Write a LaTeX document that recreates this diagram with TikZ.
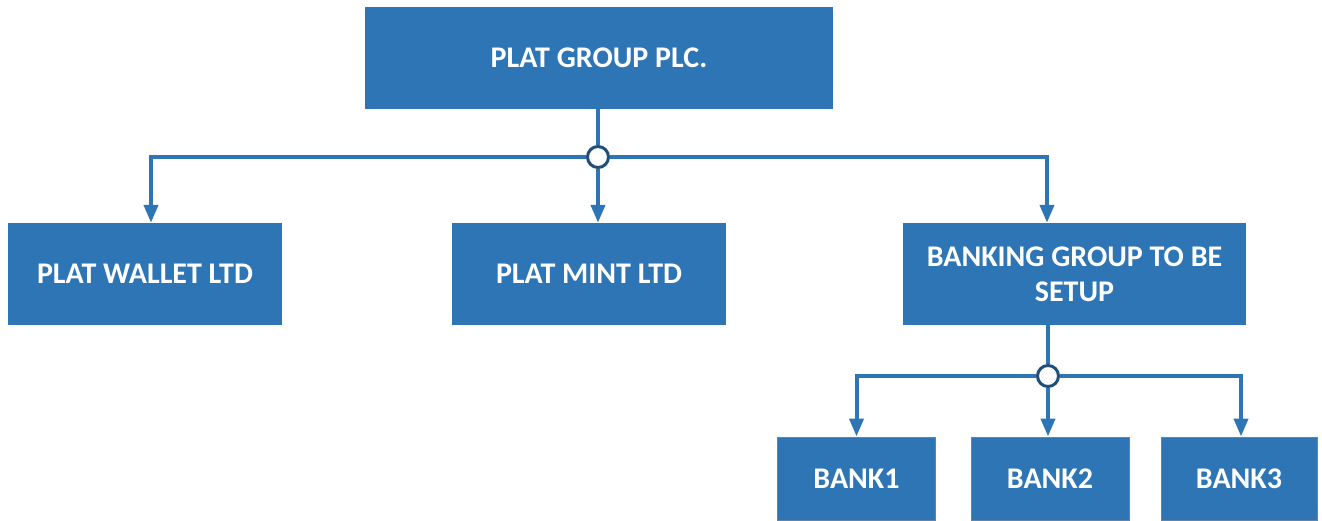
\documentclass[tikz,border=0pt]{standalone}
\usepackage{fontspec}
\setmainfont{Carlito}
\usetikzlibrary{arrows.meta}
\definecolor{boxblue}{RGB}{46,117,182}
\definecolor{ringblue}{RGB}{31,78,121}
\definecolor{bankedge}{RGB}{96,132,170}
\tikzset{
  unit/.style={rectangle, fill=boxblue, draw=none, inner sep=0pt,
    text=white, align=center, font=\bfseries\fontsize{30}{35}\selectfont},
  bankbox/.style={unit, draw=bankedge, line width=1pt},
  link/.style={draw=boxblue, line width=4pt, line join=miter},
  arr/.style={link, -{Triangle[length=18pt,width=14pt]}},
  hub/.style={circle, draw=ringblue, line width=3pt, fill=white,
    minimum size=21pt, inner sep=0pt}
}
\begin{document}
\begin{tikzpicture}[x=1pt,y=-1pt]
  \useasboundingbox (0,0) rectangle (1322,521);

  % companies
  \node[unit, minimum width=468pt, minimum height=102pt] (group) at (599,58) {PLAT GROUP PLC.};
  \node[unit, minimum width=274pt, minimum height=102pt] (wallet) at (145,274) {PLAT WALLET LTD};
  \node[unit, minimum width=274pt, minimum height=102pt] (mint) at (589,274) {PLAT MINT LTD};
  \node[unit, minimum width=343pt, minimum height=102pt] (banking) at (1074.5,274) {BANKING GROUP TO BE\\SETUP};

  % banks
  \node[bankbox, minimum width=158pt, minimum height=83pt] (bank1) at (856.5,478.5) {BANK1};
  \node[bankbox, minimum width=158pt, minimum height=83pt] (bank2) at (1050,478.5) {BANK2};
  \node[bankbox, minimum width=156pt, minimum height=83pt] (bank3) at (1239,478.5) {BANK3};

  % junctions
  \node[hub] (j1) at (598,157) {};
  \node[hub] (j2) at (1048,376) {};

  % first level
  \draw[link] (group.south -| j1) -- (j1.north);
  \draw[arr] (j1.west) -| ([xshift=6pt]wallet.north);
  \draw[arr] (j1.south) -- (j1 |- mint.north);
  \draw[arr] (j1.east) -| (banking.north -| 1047,0);

  % second level
  \draw[link] (banking.south -| j2) -- (j2.north);
  \draw[arr] (j2.west) -| (bank1.north);
  \draw[arr] (j2.south) -- (j2 |- bank2.north);
  \draw[arr] (j2.east) -| ([xshift=2pt]bank3.north);
\end{tikzpicture}
\end{document}
